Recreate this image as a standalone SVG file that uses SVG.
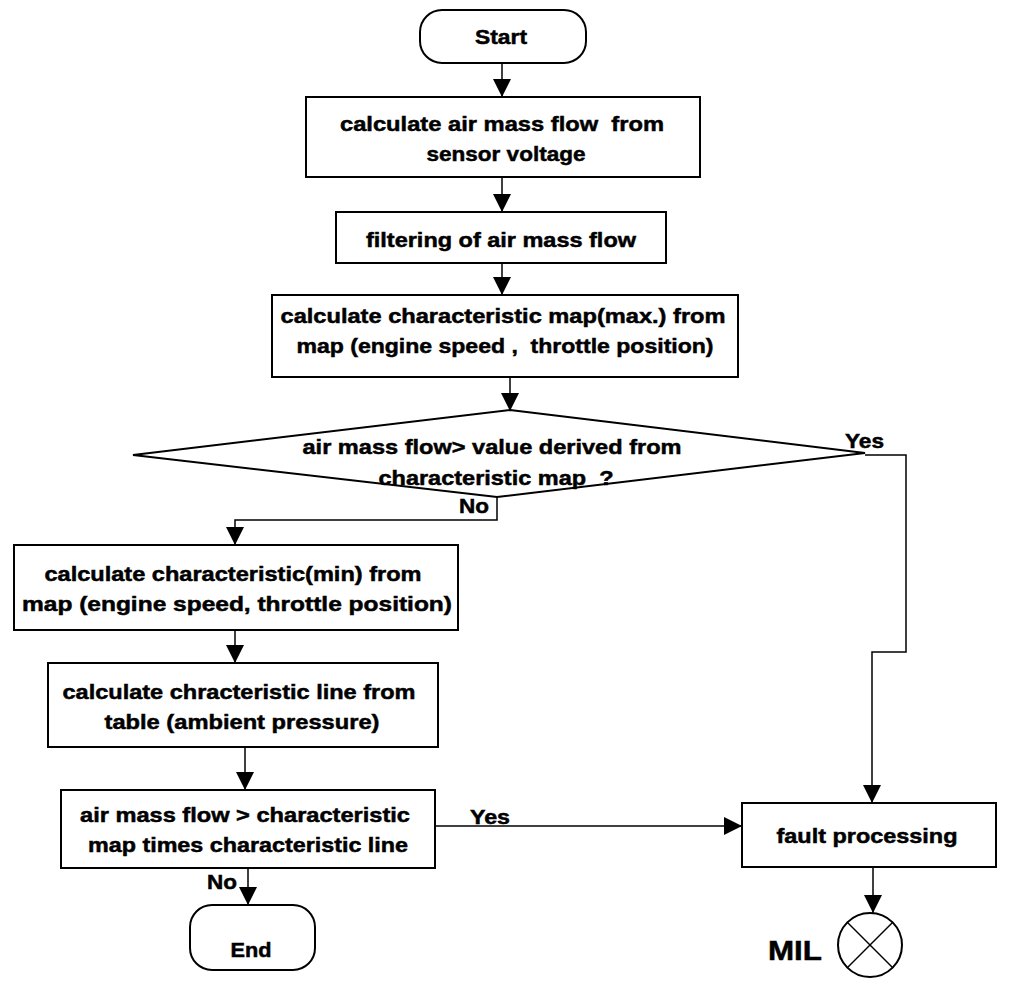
<svg xmlns="http://www.w3.org/2000/svg" width="1024" height="994" viewBox="0 0 1024 994">
<defs>
<style>
.n{fill:#fff;stroke:#000;stroke-width:2}
.t{font-family:"Liberation Sans",Arial,sans-serif;font-weight:bold;font-size:21px;fill:#000;stroke:#000;stroke-width:0.5;text-anchor:middle}
.c{fill:none;stroke:#000;stroke-width:1.5}
.l{font-family:"Liberation Sans",Arial,sans-serif;font-weight:bold;font-size:21px;fill:#000;stroke:#000;stroke-width:0.5}
</style>
<marker id="a" viewBox="0 0 18 20" refX="18" refY="10" markerWidth="18" markerHeight="20" markerUnits="userSpaceOnUse" orient="auto">
<path d="M0,1 L18,10 L0,19 z" fill="#000"/>
</marker>
</defs>
<rect width="1024" height="994" fill="#fff"/>
<g id="connectors">
<line class="c" x1="502" y1="63" x2="502" y2="97" marker-end="url(#a)"/>
<line class="c" x1="502" y1="177" x2="502" y2="212" marker-end="url(#a)"/>
<line class="c" x1="502" y1="263" x2="502" y2="295" marker-end="url(#a)"/>
<line class="c" x1="510" y1="377" x2="510" y2="411" marker-end="url(#a)"/>
<polyline class="c" points="865,455 906,455 906,652 872,652 872,803" marker-end="url(#a)"/>
<polyline class="c" points="497,497 497,520 235,520 235,545" marker-end="url(#a)"/>
<line class="c" x1="235" y1="630" x2="235" y2="663" marker-end="url(#a)"/>
<line class="c" x1="245" y1="747" x2="245" y2="790" marker-end="url(#a)"/>
<line class="c" x1="435" y1="826" x2="742" y2="826" marker-end="url(#a)" stroke-width="2"/>
<line class="c" x1="248" y1="868" x2="248" y2="905" marker-end="url(#a)"/>
<line class="c" x1="873" y1="867" x2="873" y2="913" marker-end="url(#a)"/>
<text class="l" x="845" y="448" textLength="39" lengthAdjust="spacingAndGlyphs">Yes</text>
<text class="l" x="459" y="513" textLength="30" lengthAdjust="spacingAndGlyphs">No</text>
<text class="l" x="470" y="824" textLength="40" lengthAdjust="spacingAndGlyphs">Yes</text>
<text class="l" x="207" y="889" textLength="30" lengthAdjust="spacingAndGlyphs">No</text>
</g>
<g id="start">
<rect class="n" x="420" y="10" width="166" height="53" rx="22" ry="22"/>
<text class="t" x="501" y="44" textLength="52" lengthAdjust="spacingAndGlyphs">Start</text>
</g>
<g id="box1">
<rect class="n" x="306" y="97" width="394" height="80"/>
<text class="t" x="502" y="131" textLength="324" lengthAdjust="spacingAndGlyphs" xml:space="preserve">calculate air mass flow  from</text>
<text class="t" x="506" y="161" textLength="159" lengthAdjust="spacingAndGlyphs">sensor voltage</text>
</g>
<g id="box2">
<rect class="n" x="336" y="212" width="330" height="51"/>
<text class="t" x="501" y="247" textLength="270" lengthAdjust="spacingAndGlyphs">filtering of air mass flow</text>
</g>
<g id="box3">
<rect class="n" x="272" y="295" width="466" height="82"/>
<text class="t" x="503" y="323" textLength="445" lengthAdjust="spacingAndGlyphs">calculate characteristic map(max.) from</text>
<text class="t" x="505" y="353" textLength="417" lengthAdjust="spacingAndGlyphs" xml:space="preserve">map (engine speed ,  throttle position)</text>
</g>
<g id="decision1">
<polygon class="n" points="510,410 865,453 497,497 133,455" stroke-width="2.5"/>
<text class="t" x="492" y="454" textLength="379" lengthAdjust="spacingAndGlyphs">air mass flow&gt; value derived from</text>
<text class="t" x="496" y="485" textLength="235" lengthAdjust="spacingAndGlyphs" xml:space="preserve">characteristic map  ?</text>
</g>
<g id="box4">
<rect class="n" x="14" y="545" width="444" height="85"/>
<text class="t" x="233" y="581" textLength="377" lengthAdjust="spacingAndGlyphs">calculate characteristic(min) from</text>
<text class="t" x="237" y="611" textLength="430" lengthAdjust="spacingAndGlyphs">map (engine speed, throttle position)</text>
</g>
<g id="box5">
<rect class="n" x="48" y="663" width="390" height="84"/>
<text class="t" x="239" y="699" textLength="353" lengthAdjust="spacingAndGlyphs">calculate chracteristic line from</text>
<text class="t" x="242" y="729" textLength="275" lengthAdjust="spacingAndGlyphs">table (ambient pressure)</text>
</g>
<g id="box6">
<rect class="n" x="61" y="790" width="374" height="78"/>
<text class="t" x="245" y="822" textLength="330" lengthAdjust="spacingAndGlyphs">air mass flow &gt; characteristic</text>
<text class="t" x="248" y="852" textLength="320" lengthAdjust="spacingAndGlyphs">map times characteristic line</text>
</g>
<g id="end">
<rect class="n" x="190" y="905" width="125" height="65" rx="22" ry="22"/>
<text class="t" x="251" y="957" textLength="41" lengthAdjust="spacingAndGlyphs">End</text>
</g>
<g id="fault">
<rect class="n" x="742" y="803" width="254" height="64"/>
<text class="t" x="867" y="843" textLength="181" lengthAdjust="spacingAndGlyphs">fault processing</text>
</g>
<g id="mil">
<circle class="n" cx="870" cy="945" r="32"/>
<line class="c" x1="847" y1="922" x2="893" y2="968"/>
<line class="c" x1="893" y1="922" x2="847" y2="968"/>
<text class="l" x="768" y="960" style="font-size:28px" textLength="54" lengthAdjust="spacingAndGlyphs">MIL</text>
</g>
</svg>
